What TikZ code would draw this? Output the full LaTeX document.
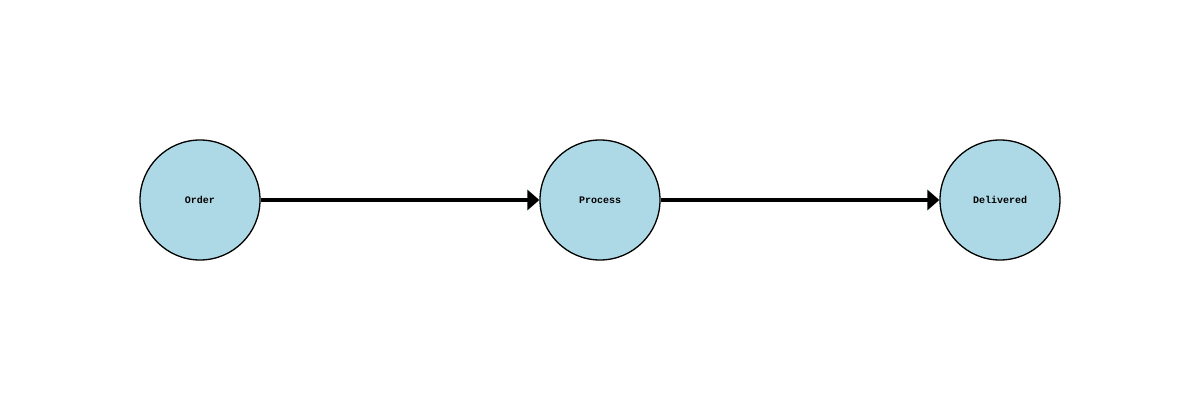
\documentclass[tikz,border=0pt]{standalone}
\usepackage{fontspec}
\setmonofont{Liberation Mono}
\usetikzlibrary{arrows.meta}

\begin{document}
\begin{tikzpicture}[
  x=1pt,y=1pt,
  etapa/.style={draw,circle,line width=1.3pt,fill={rgb,255:red,173;green,216;blue,230},minimum size=120pt,inner sep=0pt,font=\ttfamily\bfseries\fontsize{10}{12}\selectfont},
  flecha/.style={-{Triangle[length=12pt,width=20pt]},line width=4pt}
  ]
  \useasboundingbox (0,0) rectangle (1200,400);

  \node[etapa] (order) at (200,200) {Order};
  \node[etapa,right of=order,node distance=400pt] (process) {Process};
  \node[etapa,right of=process,node distance=400pt] (delivered) {Delivered};

  \draw[flecha] (order) -- (process);
  \draw[flecha] (process) -- (delivered);

\end{tikzpicture}
\end{document}
